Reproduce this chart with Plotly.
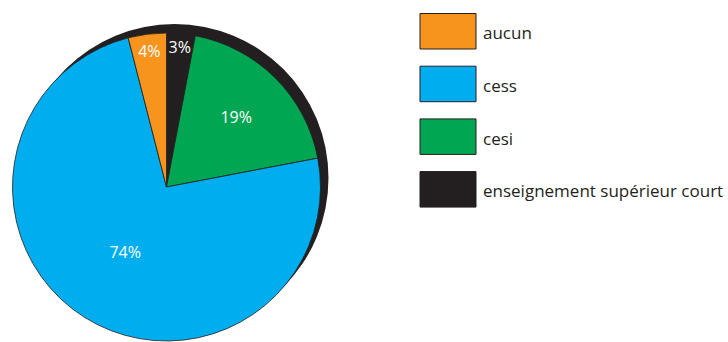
import plotly.graph_objects as go

categories = ["aucun", "cess", "cesi", "enseignement supérieur court"]
shares = [4, 74, 19, 3]
colors = ["#f7941d", "#00aeef", "#00a651", "#231f20"]

W, H = 728, 342
DARK = "#231f20"
FONT = "Open Sans"

fig = go.Figure()

# drop shadow disc behind the pie
fig.add_trace(go.Pie(
    values=[1], labels=["shadow"], sort=False,
    marker=dict(colors=[DARK], line=dict(width=0)),
    textinfo="none", hoverinfo="skip", showlegend=False,
    domain=dict(x=[20 / W, 329 / W], y=[10 / H, 318 / H]),
))

# slices drawn clockwise from 12 o'clock in reverse legend order
fig.add_trace(go.Pie(
    values=shares[::-1], labels=categories[::-1], sort=False,
    direction="clockwise", rotation=0,
    marker=dict(colors=colors[::-1], line=dict(color=DARK, width=0.8)),
    texttemplate="%{value}%", textposition="inside",
    insidetextorientation="horizontal",
    textfont=dict(family=FONT, size=16, color="white"),
    showlegend=False,
    domain=dict(x=[12 / W, 321 / W], y=[1 / H, 309 / H]),
))

# custom legend: large swatches with labels
shapes = []
annotations = []
x0, x1 = 420, 476
top0, step, bh = 13.5, 52.7, 35.5
for i, (cat, col) in enumerate(zip(categories, colors)):
    yt = top0 + i * step
    yb = yt + bh
    shapes.append(dict(
        type="rect", xref="paper", yref="paper",
        x0=x0 / W, x1=x1 / W, y0=1 - yb / H, y1=1 - yt / H,
        fillcolor=col, line=dict(color=DARK, width=1),
    ))
    annotations.append(dict(
        xref="paper", yref="paper", x=481 / W, y=1 - (yt + bh / 2 + 1.5) / H,
        xanchor="left", yanchor="middle", text=cat, showarrow=False,
        font=dict(family=FONT, size=17, color=DARK),
    ))

fig.update_layout(
    width=W, height=H,
    margin=dict(l=0, r=0, t=0, b=0),
    paper_bgcolor="white", plot_bgcolor="white",
    shapes=shapes, annotations=annotations,
    uniformtext=dict(minsize=14, mode="show"),
    showlegend=False,
)

fig.write_html(
    "out.html",
    config={"displayModeBar": False},
    post_script="document.body.style.margin='0';document.body.style.overflow='hidden';",
)
